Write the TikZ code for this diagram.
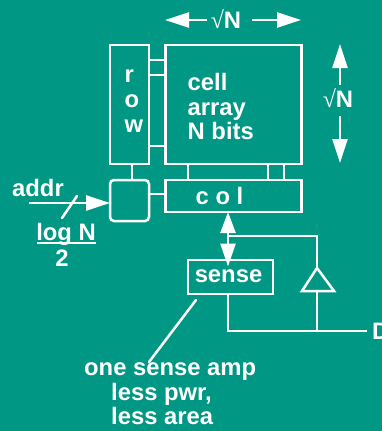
\documentclass[tikz,border=0pt]{standalone}
\usepackage{fontspec}
\setmainfont{Liberation Sans}
\newfontfamily\symfont{Liberation Serif}
\usetikzlibrary{arrows.meta,calc}
\definecolor{bgteal}{RGB}{0,151,133}
\newcommand{\rootN}{{\symfont\fontsize{24}{24}\selectfont √}{\bfseries N}}
\tikzset{
  x=1pt,y=-1pt,
  wire/.style={draw=white,line width=2.5pt,line cap=rect},
  boxn/.style={draw=white,line width=2.5pt,inner sep=0pt,outer sep=0pt,anchor=north west},
  txt/.style={text=white,font=\fontsize{23.8}{24.6}\selectfont\bfseries,inner sep=0pt,align=left},
  bigarrow/.style={draw=white,line width=2.5pt,-{Triangle[length=24pt,width=15pt,fill=white]}},
}
\begin{document}
\begin{tikzpicture}
\useasboundingbox[fill=bgteal] (0,0) rectangle (382,431);
% boxes
\node[boxn,minimum width=39pt,minimum height=119pt] (row) at (110,45) {};
\node[boxn,minimum width=136pt,minimum height=119pt] (cell) at (165.5,45) {};
\node[boxn,minimum width=136pt,minimum height=32pt] (col) at (165.5,180) {};
\node[boxn,minimum width=39pt,minimum height=41pt,rounded corners=4pt] (dec) at (110,180) {};
\node[boxn,minimum width=85pt,minimum height=34pt] (sense) at (188,260) {};
% short wires
\foreach \yy in {60,75,146} \draw[wire] (row.east |- 0,\yy) -- (cell.west |- 0,\yy);
\draw[wire] (row.south -| 132,0) -- (dec.north -| 132,0);
\foreach \xx in {188,268,284} \draw[wire] (cell.south -| \xx,0) -- (col.north -| \xx,0);
\draw[wire] (dec.east |- 0,194) -- (col.west |- 0,194);
% labels in boxes
\node[txt,anchor=west] (rowt) at (124.5,101) {r\\o\\w};
\node[txt,anchor=north west] (cellt) at (187.5,73) {cell\\array\\N bits};
\node[txt,anchor=center] (colt) at (219.5,196) {c o l};
\node[txt,anchor=center] (senset) at (228.5,276) {sense};
% dimension arrows
\node[text=white,font=\fontsize{23.8}{24}\selectfont,inner sep=0pt] (top) at (226,19) {\rootN};
\coordinate (tl) at (165,20); \coordinate (tr) at (301,20);
\draw[bigarrow] (207,20) -- (tl);
\draw[bigarrow] (252,20) -- (tr);
\node[text=white,font=\fontsize{23.8}{24}\selectfont,inner sep=0pt] (side) at (338,98) {\rootN};
\coordinate (su) at (340,44); \coordinate (sd) at (340,163);
\draw[bigarrow] (340,85) -- (su);
\draw[bigarrow] (340,116) -- (sd);
% addr
\node[txt,anchor=center] (addr) at (38,188) {addr};
\coordinate (ain) at (29,203);
\draw[bigarrow] (ain) -- (dec.west |- ain);
\coordinate (s1) at (62,218); \coordinate (s2) at (77,196);
\draw[wire,line cap=round] (s1) -- (s2);
\node[txt,anchor=center] (log) at (66,234) {log N};
\coordinate (u1) at (37,243); \coordinate (u2) at (96,243);
\draw[wire,line cap=butt] (u1) -- (u2);
\node[txt,anchor=center] (two) at (62,258) {2};
% bus
\coordinate (b1) at (228,236);
\draw[wire,line cap=butt,{Triangle[length=21pt,width=15pt,fill=white]}-{Triangle[length=23pt,width=15pt,fill=white]}] (col.south -| b1) -- ($(sense.north -| b1)+(0,6.5)$);
% feedback with driver
\coordinate (b2) at (317,236);
\coordinate (apex) at (317,268);
\coordinate (tl1) at (302,291);
\coordinate (tr1) at (334,291);
\coordinate (bb) at (317,291);
\coordinate (j) at (317,331);
\coordinate (c1) at (228,331);
\draw[wire] (b1) -- (b2) -- (apex);
\draw[wire,line join=miter] (apex) -- (tl1) -- (tr1) -- cycle;
\draw[wire] (bb) -- (j);
\draw[wire] (sense.south -| c1) -- (c1) -- (366,331);
\node[txt,anchor=west] (dout) at (372,331) {D};
% callout
\node[txt,align=left,anchor=north west] (note) at (84,362.5) {one sense amp\\\hspace*{27pt}less pwr,\\\hspace*{27pt}less area};
\coordinate (n1) at (196,300); \coordinate (n2) at (149,362);
\draw[wire,line cap=round] (n1) -- (n2);
\end{tikzpicture}
\end{document}
